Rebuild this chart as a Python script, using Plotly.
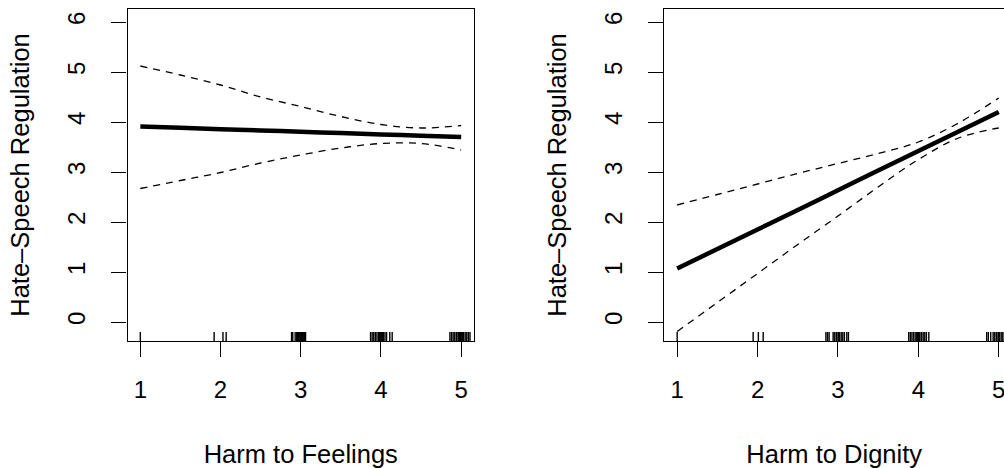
import plotly.graph_objects as go

# ---- data ----
x_grid = [1.0, 1.5, 2.0, 2.5, 3.0, 3.5, 4.0, 4.5, 5.0]

feel_fit = [3.91, 3.884, 3.857, 3.831, 3.805, 3.779, 3.752, 3.726, 3.70]
feel_upper = [5.12, 4.94, 4.74, 4.50, 4.31, 4.11, 3.95, 3.88, 3.93]
feel_lower = [2.67, 2.83, 2.99, 3.18, 3.34, 3.48, 3.57, 3.57, 3.44]

dig_fit = [1.07, 1.46, 1.85, 2.24, 2.635, 3.03, 3.42, 3.81, 4.20]
dig_upper = [2.34, 2.55, 2.76, 2.97, 3.17, 3.37, 3.60, 3.98, 4.48]
dig_lower = [-0.19, 0.39, 0.97, 1.55, 2.12, 2.70, 3.25, 3.68, 3.88]

feel_rug = [1.0,
            1.92, 2.03, 2.07,
            2.885, 2.90, 2.93, 2.95, 2.96, 2.97, 2.98, 2.99, 3.00, 3.01, 3.02, 3.03, 3.04, 3.05, 3.06,
            3.87, 3.89, 3.91, 3.93, 3.95, 3.97, 3.98, 3.99, 4.00, 4.01, 4.02, 4.03, 4.05, 4.07, 4.11, 4.14,
            4.86, 4.88, 4.90, 4.92, 4.94, 4.96, 4.97, 4.98, 4.99, 5.00, 5.01, 5.02, 5.03, 5.05, 5.07, 5.09, 5.11]
dig_rug = [1.0,
           1.945, 2.01, 2.07,
           2.85, 2.87, 2.89, 2.94, 2.96, 2.98, 3.00, 3.01, 3.02, 3.04, 3.06, 3.08, 3.11, 3.13,
           3.88, 3.90, 3.92, 3.94, 3.96, 3.98, 3.99, 4.00, 4.01, 4.02, 4.04, 4.06, 4.08, 4.10, 4.13,
           4.85, 4.87, 4.90, 4.93, 4.95, 4.97, 4.99, 5.00, 5.01, 5.03, 5.05, 5.07, 5.09, 5.11]

x_ticks = [1, 2, 3, 4, 5]
y_ticks = [0, 1, 2, 3, 4, 5, 6]
x_titles = ["Harm to Feelings", "Harm to Dignity"]
y_title = "Hate\u2013Speech Regulation"

# ---- styling ----
FONT = "Liberation Sans, Arial, Helvetica, sans-serif"
FS = 24
FS_T = 25.5
Y_RANGE = [-0.38, 6.26]
RUG_H = 0.18

fig = go.Figure()


def add_panel(fig, xa, ya, fit, upper, lower, rug):
    for ys in (upper, lower):
        fig.add_trace(go.Scatter(x=x_grid, y=ys, mode="lines", xaxis=xa, yaxis=ya,
                                 line=dict(color="black", width=1.3, dash="7px,6px", shape="spline"),
                                 showlegend=False, hoverinfo="skip"))
    fig.add_trace(go.Scatter(x=x_grid, y=fit, mode="lines", xaxis=xa, yaxis=ya,
                             line=dict(color="black", width=4.5, shape="spline"),
                             showlegend=False, hoverinfo="skip"))
    rx, ry = [], []
    for v in rug:
        rx += [v, v, None]
        ry += [Y_RANGE[0], Y_RANGE[0] + RUG_H, None]
    fig.add_trace(go.Scatter(x=rx, y=ry, mode="lines", xaxis=xa, yaxis=ya,
                             line=dict(color="black", width=1.4),
                             showlegend=False, hoverinfo="skip"))


add_panel(fig, "x", "y", feel_fit, feel_upper, feel_lower, feel_rug)
add_panel(fig, "x2", "y2", dig_fit, dig_upper, dig_lower, dig_rug)

W, H = 1004, 468
common_x = dict(tickvals=x_ticks, ticks="outside", ticklen=15, tickwidth=1.3, tickcolor="black",
                showline=True, linecolor="black", linewidth=1.3, mirror=True,
                showgrid=False, zeroline=False, ticklabelstandoff=12,
                ticklabeloverflow="allow",
                tickfont=dict(family=FONT, size=FS, color="black"))
common_y = dict(tickvals=y_ticks, ticks="outside", ticklen=15, tickwidth=1.3, tickcolor="black",
                showline=True, linecolor="black", linewidth=1.3,
                showgrid=False, zeroline=False, range=Y_RANGE, tickangle=-90,
                ticklabelstandoff=17,
                tickfont=dict(family=FONT, size=FS, color="black"),
                title=dict(text=y_title, font=dict(family=FONT, size=FS_T, color="black"), standoff=25))

fig.update_layout(
    width=W, height=H,
    margin=dict(l=0, r=0, t=9, b=127, autoexpand=False),
    paper_bgcolor="white", plot_bgcolor="white",
    xaxis=dict(domain=[127.5 / W, 474 / W], range=[0.84, 5.16], anchor="y",
               title=dict(text=x_titles[0], font=dict(family=FONT, size=FS_T, color="black"), standoff=44),
               **common_x),
    yaxis=dict(domain=[0, 1], anchor="x", mirror=True, **common_y),
    xaxis2=dict(domain=[664.3 / W, 1.0], range=[0.84, 0.84 + (W - 664.3) / 80.4], anchor="y2",
                title=dict(text=x_titles[1], font=dict(family=FONT, size=FS_T, color="black"), standoff=44),
                **common_x),
    yaxis2=dict(domain=[0, 1], anchor="x2", mirror=False, **common_y),
)

fig.write_html("out.html", config={"displayModeBar": False},
               post_script="document.body.style.margin='0';document.body.style.overflow='hidden';")
